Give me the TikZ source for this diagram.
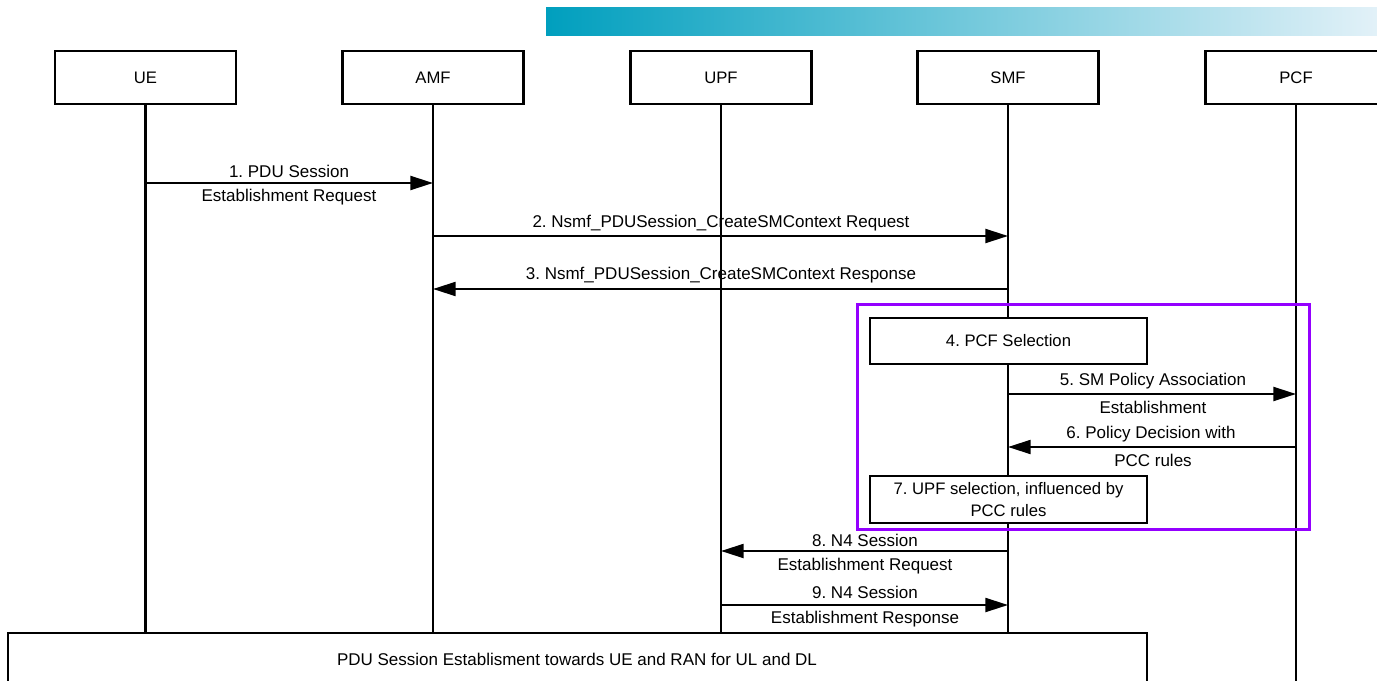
\documentclass[tikz,border=0pt]{standalone}
\usepackage{fontspec}
\setmainfont{Liberation Sans}
\frenchspacing
\usetikzlibrary{arrows.meta}
\definecolor{barstart}{HTML}{009FBE}
\definecolor{barend}{HTML}{E2F1F8}
\definecolor{framepurple}{HTML}{9400FF}
\tikzset{
  actor/.style={draw, line width=1.6pt, minimum width=135.75pt, minimum height=39.75pt, inner sep=0pt, font=\fontsize{12.5}{15}\selectfont},
  stepbox/.style={draw, line width=1.6pt, fill=white, minimum width=207.75pt, inner sep=0pt, align=center, font=\fontsize{12.5}{16.5}\selectfont},
  lifeline/.style={line width=1.6pt},
  msg/.style={line width=1.6pt, -{Triangle[length=17pt, width=10.5pt]}},
  lbl/.style={font=\fontsize{12.75}{15}\selectfont, inner sep=0pt}
}
\begin{document}
\begin{tikzpicture}[x=0.75pt, y=-0.75pt]
\useasboundingbox (0,0) rectangle (1377,681);
\begin{scope}
\clip (0,0) rectangle (1377,681);
% header band
\shade[left color=barstart, right color=barend] (546,8) rectangle (1377,36);

% participants
\node[actor] (ue)  at (145.5,77.5)  {UE};
\node[actor] (amf) at (433,77.5)  {AMF};
\node[actor] (upf) at (721,77.5)  {UPF};
\node[actor] (smf) at (1008,77.5) {SMF};
\node[actor] (pcf) at (1296,77.5) {PCF};

% lifeline ends
\coordinate (ueE)  at (145.5,633);
\coordinate (amfE) at (433,633);
\coordinate (upfE) at (721,633);
\coordinate (smfE) at (1008,633);
\coordinate (pcfE) at (1296,690);
\draw[lifeline] (ue.south)  -- (ueE);
\draw[lifeline] (amf.south) -- (amfE);
\draw[lifeline] (upf.south) -- (upfE);
\draw[lifeline] (smf.south) -- (smfE);
\draw[lifeline] (pcf.south) -- (pcfE);

% message anchor points on lifelines
\coordinate (m1a) at (145.5,183); \coordinate (m1b) at (433,183);
\coordinate (m2a) at (433,236);   \coordinate (m2b) at (1008,236);
\coordinate (m3a) at (1008,289);  \coordinate (m3b) at (433,289);
\coordinate (m5a) at (1008,394);  \coordinate (m5b) at (1296,394);
\coordinate (m6a) at (1296,447);  \coordinate (m6b) at (1008,447);
\coordinate (m8a) at (1008,551);  \coordinate (m8b) at (721,551);
\coordinate (m9a) at (721,605);   \coordinate (m9b) at (1008,605);

% messages
\draw[msg] (m1a) -- (m1b);
\node[lbl] (l1a) at (289,171) {1. PDU Session};
\node[lbl] (l1b) at (289,197) {Establishment Request};

\draw[msg] (m2a) -- (m2b);
\node[lbl] (l2) at (721,223) {2. Nsmf\_PDUSession\_CreateSMContext Request};

\draw[msg] (m3a) -- (m3b);
\node[lbl] (l3) at (721,275) {3. Nsmf\_PDUSession\_CreateSMContext Response};

% step boxes
\node[stepbox, minimum height=34.5pt] (s4) at (1008.5,341) {4. PCF Selection};

\draw[msg] (m5a) -- (m5b);
\node[lbl] (l5a) at (1153,381) {5. SM Policy Association};
\node[lbl] (l5b) at (1153,407) {Establishment};

\draw[msg] (m6a) -- (m6b);
\node[lbl] (l6a) at (1151,434) {6. Policy Decision with};
\node[lbl] (l6b) at (1153,460) {PCC rules};

\node[stepbox, minimum height=35.25pt] (s7) at (1008.5,499.5) {7. UPF selection, influenced by\\PCC rules};

% highlighted section
\draw[framepurple, line width=2.25pt] (857,304) rectangle (1309,529);

\draw[msg] (m8a) -- (m8b);
\node[lbl] (l8a) at (865,540) {8. N4 Session};
\node[lbl] (l8b) at (865,566) {Establishment Request};

\draw[msg] (m9a) -- (m9b);
\node[lbl] (l9a) at (865,592) {9. N4 Session};
\node[lbl] (l9b) at (865,619) {Establishment Response};

% final phase box
\draw[line width=1.6pt, fill=white] (8,633) rectangle (1147,700);
\node[lbl] (fin) at (577,659) {PDU Session Establisment towards UE and RAN for UL and DL};
\end{scope}
\end{tikzpicture}
\end{document}
